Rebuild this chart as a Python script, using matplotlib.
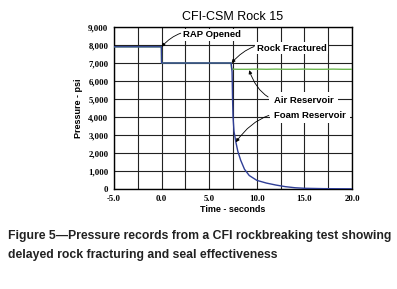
import matplotlib
matplotlib.use("Agg")
import matplotlib.pyplot as plt
from matplotlib.ticker import FuncFormatter

# Data
air_t = [-5.0, -0.02, 0.0, 7.3, 7.35, 8.0, 9.0, 10.0, 11.0, 12.0, 13.0, 14.0, 15.0, 16.0, 17.0, 18.0, 19.0, 20.0]
air_p = [7900, 7900, 7000, 7000, 6660, 6650, 6650, 6660, 6650, 6660, 6650, 6650, 6660, 6650, 6650, 6660, 6650, 6650]
foam_t = [-5.0, -0.02, 0.0, 7.3, 7.4, 7.45, 7.5, 7.6, 7.8, 8.0, 8.3, 8.7, 9.2, 10.0, 11.0, 12.0, 13.0, 14.0, 15.0, 17.0, 20.0]
foam_p = [7900, 7900, 7000, 7000, 6500, 5000, 4000, 3200, 2600, 2100, 1600, 1100, 750, 480, 330, 220, 130, 70, 40, 20, 10]

x_ticks = [-5.0, 0.0, 5.0, 10.0, 15.0, 20.0]
y_ticks = [0, 1000, 2000, 3000, 4000, 5000, 6000, 7000, 8000, 9000]

title = "CFI-CSM Rock 15"
xlabel = "Time - seconds"
ylabel = "Pressure - psi"
caption = ("Figure 5\u2014Pressure records from a CFI rockbreaking test showing\n"
           "delayed rock fracturing and seal effectiveness")

plt.rcParams['font.family'] = ['Liberation Sans', 'DejaVu Sans']

fig = plt.figure(figsize=(3.97, 2.89), dpi=100)
ax = fig.add_axes([0.287, 0.346, 0.600, 0.5606])

ax.plot(air_t, air_p, color="#6cb650", lw=1.0, zorder=3)
ax.plot(foam_t, foam_p, color="#2f3e96", lw=1.0, zorder=4)

ax.set_xlim(-5, 20)
ax.set_ylim(0, 9000)
ax.set_xticks(x_ticks)
ax.set_xticks([-2.5, 2.5, 7.5, 12.5, 17.5], minor=True)
ax.set_yticks(y_ticks)
ax.xaxis.set_major_formatter(FuncFormatter(lambda v, p: f"{v:.1f}"))
ax.yaxis.set_major_formatter(FuncFormatter(lambda v, p: f"{int(v):,}"))
ax.grid(True, which='both', color='#222222', lw=0.8, zorder=1)
ax.tick_params(which='both', length=0, pad=4)
ax.tick_params(axis='y', labelsize=6.3)
ax.tick_params(axis='x', labelsize=6.3)
for lab in ax.get_xticklabels() + ax.get_yticklabels():
    lab.set_fontweight('bold')
    lab.set_family(['Liberation Serif', 'DejaVu Serif'])
for s in ax.spines.values():
    s.set_color('black')
    s.set_linewidth(1.0)

ax.set_title(title, fontsize=9, pad=5)
ax.set_xlabel(xlabel, fontsize=6.5, fontweight='bold', labelpad=2)
ax.set_ylabel(ylabel, fontsize=6.5, fontweight='bold', labelpad=4)

box = dict(boxstyle='square,pad=0.15', fc='white', ec='none')
arrow = dict(arrowstyle='-|>', color='black', lw=0.6, mutation_scale=5,
             shrinkA=1, shrinkB=0)

ax.annotate("RAP Opened", xy=(0.0, 7900), xytext=(2.3, 8560),
            fontsize=6.8, fontweight='bold', ha='left', va='center', bbox=box,
            arrowprops=dict(arrow, connectionstyle='arc3,rad=0.35'), zorder=6)
ax.annotate("Rock Fractured", xy=(7.35, 7000), xytext=(10.0, 7830),
            fontsize=6.8, fontweight='bold', ha='left', va='center', bbox=box,
            arrowprops=dict(arrow, connectionstyle='arc3,rad=0.35'), zorder=6)
ax.annotate("Air Reservoir", xy=(9.2, 6600), xytext=(11.8, 4890),
            fontsize=6.8, fontweight='bold', ha='left', va='center',
            bbox=dict(boxstyle='square,pad=0.5', fc='white', ec='none'),
            arrowprops=dict(arrow, connectionstyle='arc3,rad=-0.45'), zorder=6)
ax.annotate("Foam Reservoir", xy=(7.8, 2600), xytext=(11.8, 4110),
            fontsize=6.8, fontweight='bold', ha='left', va='center',
            bbox=dict(boxstyle='square,pad=0.4', fc='white', ec='none'),
            arrowprops=dict(arrow, connectionstyle='arc3,rad=0.35'), zorder=6)

fig.text(0.02, 0.205, caption, fontsize=8.8, fontweight='bold', ha='left', va='top',
         linespacing=1.75, color='#222222')

fig.savefig("out.png", dpi=100)
